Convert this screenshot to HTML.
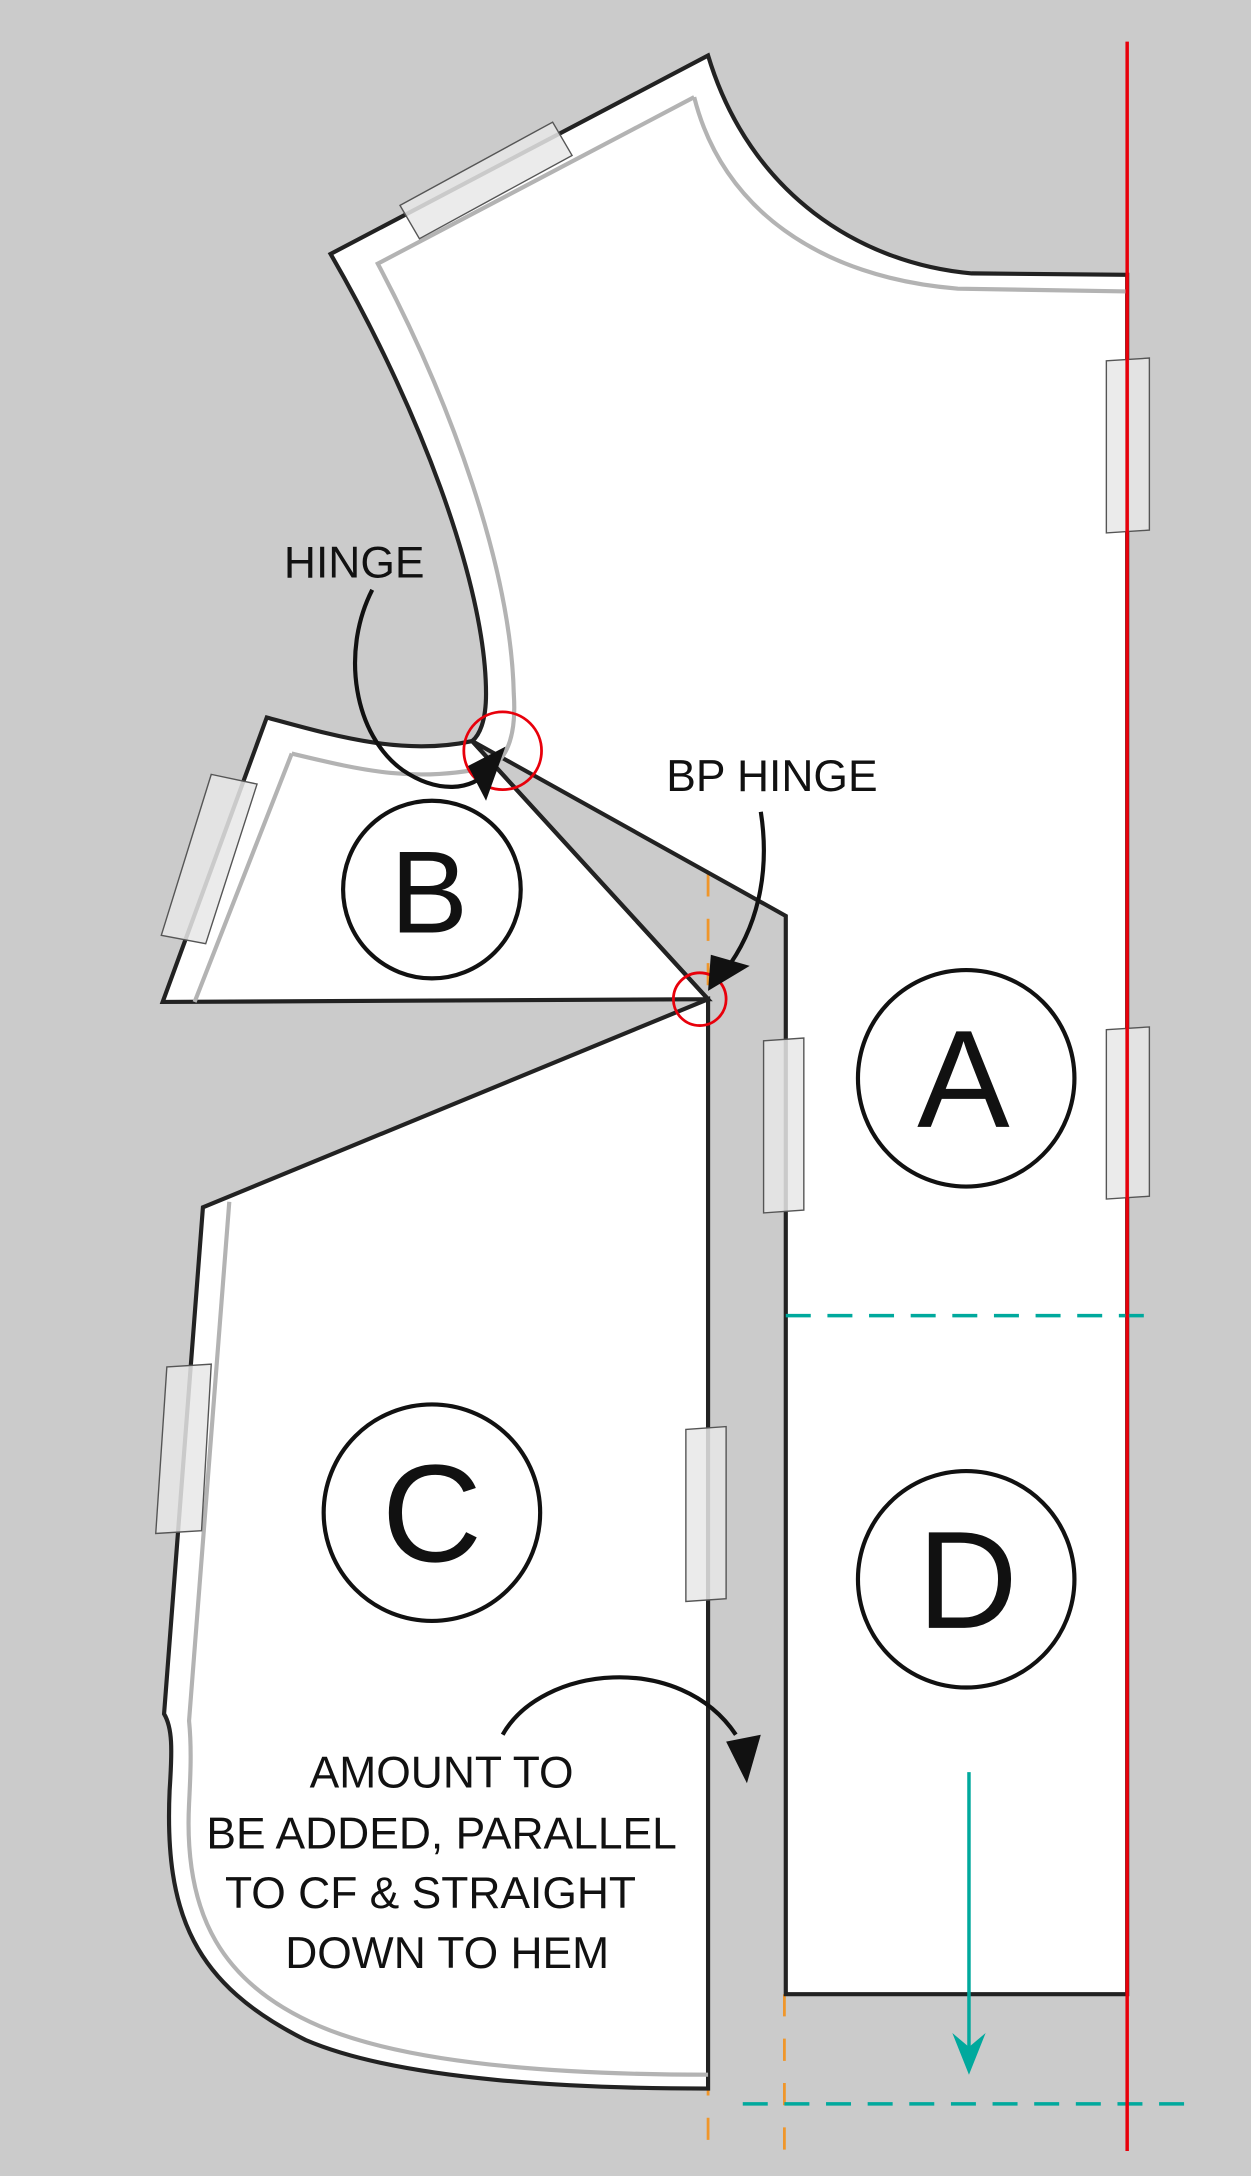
<!DOCTYPE html>
<html><head><meta charset="utf-8"><style>html,body{margin:0;padding:0;background:#cbcbcb}svg{display:block}</style></head>
<body>
<svg width="1251" height="2176" viewBox="0 0 901 1568" xmlns="http://www.w3.org/2000/svg" font-family="Liberation Sans, sans-serif">
<rect width="901" height="1568" fill="#cbcbcb"/>
<!-- orange dashes (under pieces) -->
<line x1="510" y1="630" x2="510" y2="1555" stroke="#f0962a" stroke-width="2" stroke-dasharray="16,16"/>
<line x1="565" y1="1437" x2="565" y2="1555" stroke="#f0962a" stroke-width="2" stroke-dasharray="16,16"/>
<!-- Piece A -->
<path d="M510,40 L238,183 C300,290 350,420 350,500 C350,520 345,530 340,534 L566,660 L566,1437 L812,1437 L812,198 L700,197 C620,190 540,140 510,40 Z" fill="#fff" stroke="#222" stroke-width="3" stroke-linejoin="miter"/>
<path d="M500,70 L272,190 C325,290 368,410 370,500 C372,530 365,545 355,552" fill="none" stroke="#b3b3b3" stroke-width="3"/>
<path d="M500,70 C520,150 590,200 690,208 L812,210" fill="none" stroke="#b3b3b3" stroke-width="3"/>
<!-- Piece B -->
<path d="M192,517 C240,530 290,545 340,534 L510,720 L117,722 Z" fill="#fff" stroke="#222" stroke-width="3"/>
<path d="M210,543 C260,555 300,565 355,552 M210,543 L140,722" fill="none" stroke="#b3b3b3" stroke-width="3"/>
<line x1="340" y1="534" x2="510" y2="720" stroke="#222" stroke-width="3"/>
<!-- Piece C -->
<path d="M510,720 L146,870 L118,1235 C124,1245 124,1260 122,1290 C118,1380 140,1430 220,1470 C290,1500 420,1505 510,1505 Z" fill="#fff" stroke="#222" stroke-width="3"/>
<path d="M165,866 L136,1240 C138,1260 137,1280 136,1300 C132,1380 160,1430 230,1460 C300,1490 420,1495 510,1495" fill="none" stroke="#b3b3b3" stroke-width="3"/>
<!-- tapes -->
<g fill="#e8e8e8" fill-opacity="0.85" stroke="#555" stroke-width="1">
<path d="M288,148 L398,88 L412,112 L302,172 Z"/>
<path d="M797,260 L828,258 L828,382 L797,384 Z"/>
<path d="M797,742 L828,740 L828,862 L797,864 Z"/>
<path d="M550,750 L579,748 L579,872 L550,874 Z"/>
<path d="M494,1030 L523,1028 L523,1152 L494,1154 Z"/>
<path d="M152,558 L185,565 L148,680 L116,674 Z"/>
<path d="M120,985 L152,983 L145,1103 L112,1105 Z"/>
</g>
<!-- teal -->
<line x1="566" y1="948" x2="835" y2="948" stroke="#00a99d" stroke-width="2.5" stroke-dasharray="18,12"/>
<line x1="535" y1="1516" x2="860" y2="1516" stroke="#00a99d" stroke-width="2.5" stroke-dasharray="18,12"/>
<line x1="698" y1="1277" x2="698" y2="1480" stroke="#00a99d" stroke-width="2.5"/>
<path d="M686,1465 L698,1495 L710,1465 L698,1475 Z" fill="#00a99d"/>
<!-- CF -->
<line x1="812" y1="30" x2="812" y2="1550" stroke="#e8000b" stroke-width="2.5"/>
<!-- circles & letters -->
<g fill="#fff" stroke="#111" stroke-width="3">
<circle cx="696" cy="777" r="78"/><circle cx="311" cy="641" r="64"/><circle cx="311" cy="1090" r="78"/><circle cx="696" cy="1138" r="78"/>
</g>
<g font-size="100" text-anchor="middle" fill="#111" font-weight="normal">
<text x="694" y="812">A</text><text x="309" y="672" font-size="84">B</text><text x="311" y="1125">C</text><text x="697" y="1173">D</text>
</g>
<!-- hinge circles -->
<circle cx="362" cy="541" r="28" fill="none" stroke="#e8000b" stroke-width="2"/>
<circle cx="504" cy="720" r="19" fill="none" stroke="#e8000b" stroke-width="2"/>
<!-- hinge arrows -->
<path d="M268,425 C245,470 255,530 290,555 C315,572 340,570 352,555" fill="none" stroke="#111" stroke-width="3"/>
<path d="M337,552 L364,538 L350,577 Z" fill="#111"/>
<path d="M548,585 C555,630 545,670 522,700" fill="none" stroke="#111" stroke-width="3"/>
<path d="M512,688 L540,696 L510,714 Z" fill="#111"/>
<path d="M362,1250 C390,1200 490,1190 530,1250" fill="none" stroke="#111" stroke-width="3"/>
<path d="M523,1255 L548,1250 L538,1285 Z" fill="#111"/>
<!-- labels -->
<g font-size="32" fill="#111" text-anchor="middle">
<text x="255" y="416">HINGE</text>
<text x="556" y="570">BP HINGE</text>
<text x="318" y="1288">AMOUNT TO</text>
<text x="318" y="1332">BE ADDED, PARALLEL</text>
<text x="310" y="1375">TO CF &amp; STRAIGHT</text>
<text x="322" y="1418">DOWN TO HEM</text>
</g>
</svg>
</body></html>
